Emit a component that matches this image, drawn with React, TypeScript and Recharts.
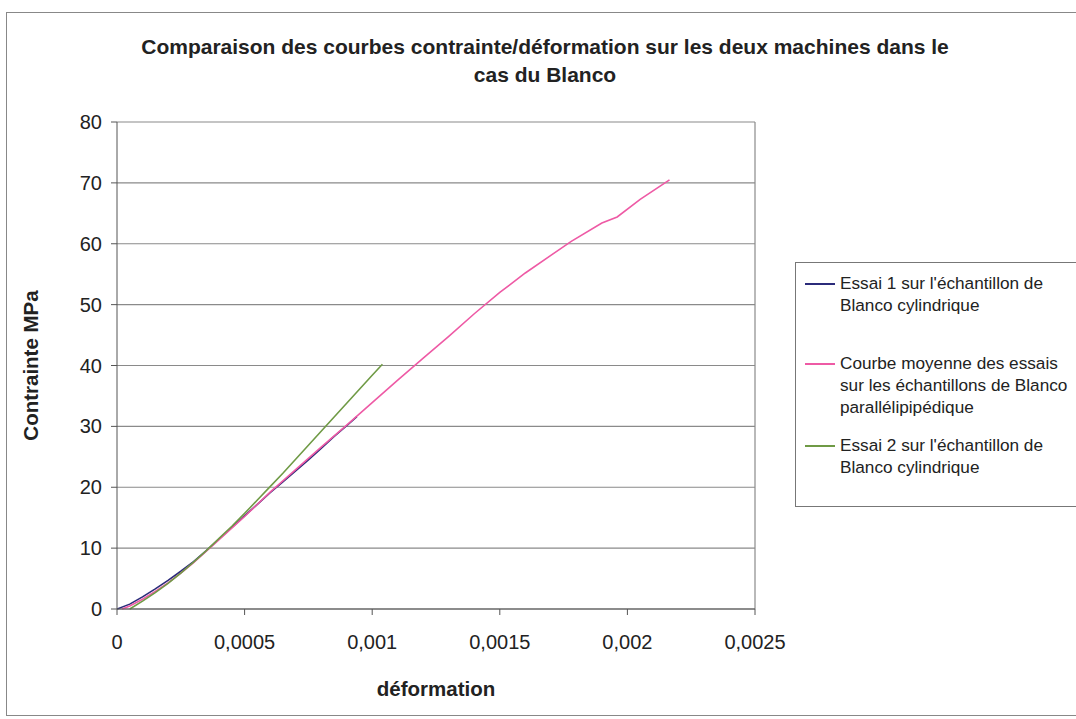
import React from 'react';
import { LineChart, Line, XAxis, YAxis, CartesianGrid, ReferenceLine } from 'recharts';

const FONT = '"Liberation Sans", Arial, sans-serif';

const titleLines = [
  'Comparaison des courbes contrainte/déformation sur les deux machines dans le',
  'cas du Blanco',
];
const xTicks = [0, 0.0005, 0.001, 0.0015, 0.002, 0.0025];
const yTicks = [0, 10, 20, 30, 40, 50, 60, 70, 80];

const essai1 = [
  { x: 0, y: 0 }, { x: 0.00005, y: 0.8 }, { x: 0.0001, y: 2 }, { x: 0.00015, y: 3.3 },
  { x: 0.0002, y: 4.7 }, { x: 0.00025, y: 6.2 }, { x: 0.0003, y: 7.8 }, { x: 0.00035, y: 9.6 },
  { x: 0.0004, y: 11.5 }, { x: 0.00045, y: 13.4 }, { x: 0.0005, y: 15.3 }, { x: 0.00055, y: 17.2 },
  { x: 0.0006, y: 19.1 }, { x: 0.00065, y: 20.9 }, { x: 0.0007, y: 22.7 }, { x: 0.00075, y: 24.5 },
  { x: 0.0008, y: 26.4 }, { x: 0.00085, y: 28.3 }, { x: 0.0009, y: 30.1 }, { x: 0.00094, y: 31.6 },
];

const moyenne = [
  { x: 0.00002, y: 0 }, { x: 0.00005, y: 0.5 }, { x: 0.0001, y: 1.6 }, { x: 0.00015, y: 2.9 },
  { x: 0.0002, y: 4.3 }, { x: 0.00025, y: 5.9 }, { x: 0.0003, y: 7.6 }, { x: 0.00035, y: 9.5 },
  { x: 0.0004, y: 11.4 }, { x: 0.0005, y: 15.2 }, { x: 0.0006, y: 19.2 }, { x: 0.0007, y: 22.9 },
  { x: 0.0008, y: 26.6 }, { x: 0.0009, y: 30.2 }, { x: 0.001, y: 33.9 }, { x: 0.0011, y: 37.6 },
  { x: 0.0012, y: 41.2 }, { x: 0.0013, y: 44.8 }, { x: 0.0014, y: 48.5 }, { x: 0.0015, y: 52.0 },
  { x: 0.0016, y: 55.2 }, { x: 0.0017, y: 58.1 }, { x: 0.00178, y: 60.4 }, { x: 0.0019, y: 63.4 },
  { x: 0.00196, y: 64.4 }, { x: 0.00205, y: 67.3 }, { x: 0.002165, y: 70.5 },
];

const essai2 = [
  { x: 0.00005, y: 0 }, { x: 0.0001, y: 1.3 }, { x: 0.00015, y: 2.7 }, { x: 0.0002, y: 4.2 },
  { x: 0.00025, y: 5.9 }, { x: 0.0003, y: 7.7 }, { x: 0.00035, y: 9.6 }, { x: 0.0004, y: 11.6 },
  { x: 0.00045, y: 13.6 }, { x: 0.0005, y: 15.7 }, { x: 0.00055, y: 17.9 }, { x: 0.0006, y: 20.1 },
  { x: 0.00065, y: 22.3 }, { x: 0.0007, y: 24.6 }, { x: 0.00075, y: 26.9 }, { x: 0.0008, y: 29.2 },
  { x: 0.00085, y: 31.5 }, { x: 0.0009, y: 33.8 }, { x: 0.00095, y: 36.1 }, { x: 0.001, y: 38.4 },
  { x: 0.00104, y: 40.2 },
];

const series = [
  { name: "Essai 1 sur l'échantillon de Blanco cylindrique", lines: ["Essai 1 sur l'échantillon de", 'Blanco cylindrique'], data: essai1, color: '#2b2b7a' },
  { name: 'Courbe moyenne des essais sur les échantillons de Blanco parallélipipédique', lines: ['Courbe moyenne des essais', 'sur les échantillons de Blanco', 'parallélipipédique'], data: moyenne, color: '#ee5aa5' },
  { name: "Essai 2 sur l'échantillon de Blanco cylindrique", lines: ["Essai 2 sur l'échantillon de", 'Blanco cylindrique'], data: essai2, color: '#6f9a45' },
];

const fmt = (v: number) => String(v).replace('.', ',');

const LegendBox = () => (
  <div style={{ position: 'absolute', left: 795, top: 262, border: '1px solid #777', width: 290, height: 245, boxSizing: 'border-box', paddingTop: 9, fontFamily: FONT, fontSize: 17.2, color: '#222', background: '#fff' }}>
    {series.map((s, i) => (
      <div key={i} style={{ display: 'flex', alignItems: 'flex-start', marginBottom: i === 0 ? 36 : 16 }}>
        <div style={{ width: 30, height: 1.6, background: s.color, marginLeft: 9, marginTop: 11, marginRight: 5, flex: 'none' }} />
        <div style={{ lineHeight: '22px', whiteSpace: 'nowrap' }}>
          {s.lines.map((l, j) => <div key={j}>{l}</div>)}
        </div>
      </div>
    ))}
  </div>
);

export default function App() {
  return (
    <div style={{ position: 'absolute', left: 0, top: 0, width: 1076, height: 719, background: '#fff', overflow: 'hidden' }}>
      <div style={{ position: 'absolute', left: 6, top: 12, width: 1080, height: 702, border: '1px solid #888' }} />
      <div style={{ position: 'absolute', left: 0, top: 33, width: 1090, textAlign: 'center', fontFamily: FONT, fontWeight: 'bold', fontSize: 21, lineHeight: '28px', color: '#222' }}>
        {titleLines.map((l, i) => <div key={i}>{l}</div>)}
      </div>
      <div style={{ position: 'absolute', left: 0, top: 0 }}>
        <LineChart width={1076} height={719} margin={{ top: 122, right: 321, bottom: 80, left: 57 }}>
          <CartesianGrid vertical={false} stroke="#8a8a8a" strokeWidth={1.2} />
          <XAxis
            type="number"
            dataKey="x"
            domain={[0, 0.0025]}
            ticks={xTicks}
            tickFormatter={fmt}
            allowDataOverflow
            stroke="#555"
            tickSize={6}
            tickMargin={20}
            height={30}
            tick={{ fill: '#222', fontSize: 20, fontFamily: FONT }}
            label={{ value: 'déformation', position: 'insideBottom', offset: -57, fill: '#222', fontSize: 20.5, fontWeight: 'bold', fontFamily: FONT }}
          />
          <YAxis
            type="number"
            dataKey="y"
            domain={[0, 80]}
            ticks={yTicks}
            stroke="#555"
            width={60}
            tickSize={6}
            tickMargin={9}
            tick={{ fill: '#222', fontSize: 20, fontFamily: FONT }}
            label={{ value: 'Contrainte MPa', angle: -90, position: 'insideLeft', offset: -26, style: { textAnchor: 'middle' }, fill: '#222', fontSize: 20.5, fontWeight: 'bold', fontFamily: FONT }}
          />
          <ReferenceLine x={0.0025} stroke="#8a8a8a" strokeWidth={1.2} />
          {series.map((s) => (
            <Line key={s.name} name={s.name} data={s.data} dataKey="y" type="linear" stroke={s.color} strokeWidth={1.6} dot={false} isAnimationActive={false} />
          ))}
        </LineChart>
      </div>
      <LegendBox />
    </div>
  );
}
